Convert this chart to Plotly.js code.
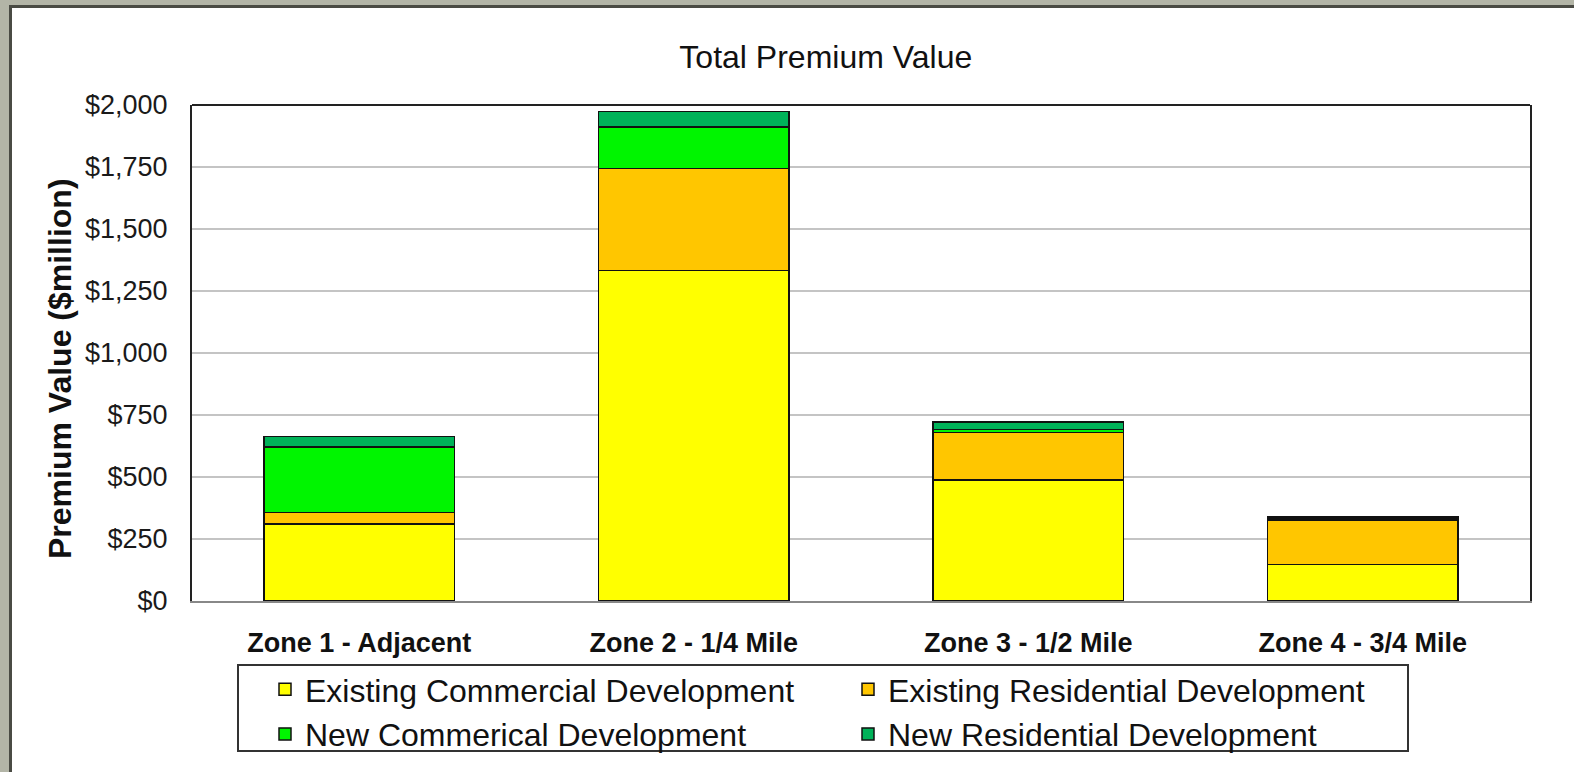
<!DOCTYPE html>
<html>
<head>
<meta charset="utf-8">
<script src="https://cdn.plot.ly/plotly-3.0.1.min.js"></script>
<style>
  html, body { margin: 0; padding: 0; background: #b3b5a7; width: 1574px; height: 772px; overflow: hidden; }
  #frame { position: absolute; left: 9px; top: 5px; width: 1565px; height: 767px;
           border-left: 3px solid #4a4b44; border-top: 3px solid #4a4b44; background: #ffffff; }
  #chart { width: 1562px; height: 764px; }
</style>
</head>
<body>
<div id="frame"><div id="chart"></div></div>
<script>
const zones = ["Zone 1 - Adjacent", "Zone 2 - 1/4 Mile", "Zone 3 - 1/2 Mile", "Zone 4 - 3/4 Mile"];
const existingCommercial = [310, 1332, 488, 147];
const existingResidential = [46, 411, 192, 179];
const newCommercial = [265, 169, 12, 6];
const newResidential = [43, 61, 30, 7];
const yTicks = [0, 250, 500, 750, 1000, 1250, 1500, 1750, 2000];
const yTickText = yTicks.map(v => "$" + v.toLocaleString("en-US"));

const FONT = "Liberation Sans, Arial, sans-serif";
const series = [
  {name: "Existing Commercial Development", y: existingCommercial, color: "#ffff00"},
  {name: "Existing Residential Development", y: existingResidential, color: "#ffc600"},
  {name: "New Commerical Development", y: newCommercial, color: "#00f500"},
  {name: "New Residential Development", y: newResidential, color: "#00b259"}
];

const traces = series.map(s => ({
  type: "bar",
  name: s.name,
  x: zones,
  y: s.y,
  marker: {color: s.color, line: {color: "#111111", width: 1.5}},
  hoverinfo: "x+y+name"
}));

// plot area in div pixels: left 180, width 1338, top 97, bottom 593
const PL = 180, PW = 1338, PB = 593, PH = 496;
const px = v => (v - PL) / PW;
const py = v => (PB - v) / PH;

const layout = {
  width: 1562,
  height: 764,
  barmode: "stack",
  bargap: 0.43,
  paper_bgcolor: "#ffffff",
  plot_bgcolor: "#ffffff",
  margin: {l: 180, r: 44, t: 97, b: 171},
  font: {family: FONT, color: "#111111"},
  title: {
    text: "Total Premium Value",
    font: {family: FONT, size: 32, color: "#111111"},
    xref: "container", x: 0.521, xanchor: "center",
    yref: "container", y: 1 - 49 / 764, yanchor: "middle"
  },
  xaxis: {
    type: "category",
    showline: true, linecolor: "#888888", linewidth: 2, mirror: false,
    showgrid: false, ticks: "",
    ticklabelstandoff: 17,
    tickfont: {family: FONT, size: 27, color: "#111111", weight: "bold"}
  },
  yaxis: {
    range: [0, 2000],
    tickmode: "array",
    tickvals: yTicks,
    ticktext: yTickText,
    showline: true, linecolor: "#222222", linewidth: 2, mirror: true,
    showgrid: true, gridcolor: "#c4c4c4", gridwidth: 1.5,
    zeroline: false, ticks: "",
    ticklabelstandoff: 17,
    tickfont: {family: FONT, size: 27, color: "#1a1a1a"}
  },
  shapes: [
    {type: "line", xref: "paper", yref: "paper", x0: 0, x1: 1, y0: 1, y1: 1,
     line: {color: "#222222", width: 2}},
    {type: "rect", xref: "paper", yref: "paper",
     x0: px(226), x1: px(1396), y0: py(657), y1: py(743),
     line: {color: "#333333", width: 2}, fillcolor: "rgba(0,0,0,0)"}
  ],
  annotations: [
    {text: "<b>Premium Value ($million)</b>", textangle: -90,
     xref: "paper", yref: "paper", x: px(48), y: py(361),
     xanchor: "center", yanchor: "middle", showarrow: false,
     font: {family: FONT, size: 32, color: "#111111"}}
  ],
  showlegend: true,
  legend: {
    orientation: "h",
    traceorder: "normal",
    xref: "container", yref: "container",
    x: 253 / 1562, xanchor: "left",
    y: 1 - 654 / 764, yanchor: "top",
    entrywidth: 538, entrywidthmode: "pixels",
    borderwidth: 0,
    bgcolor: "rgba(0,0,0,0)",
    font: {family: FONT, size: 32, color: "#111111"}
  }
};

Plotly.newPlot("chart", traces, layout, {displayModeBar: false, responsive: false});
</script>
</body>
</html>
